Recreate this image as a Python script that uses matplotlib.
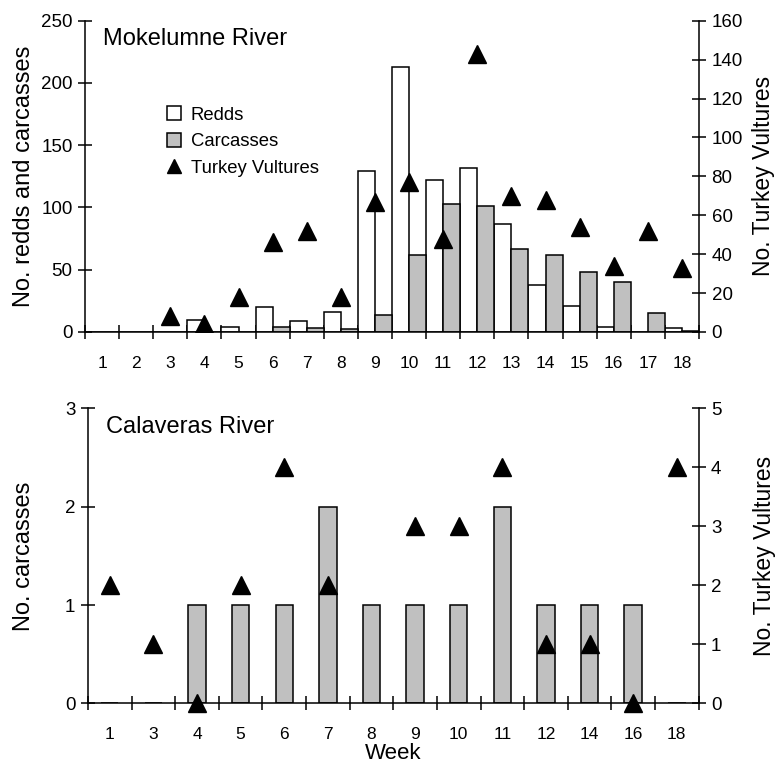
import numpy as np
import matplotlib
matplotlib.use("Agg")
import matplotlib.pyplot as plt
from matplotlib.patches import Patch
from matplotlib.lines import Line2D

plt.rcParams['font.family'] = ['Liberation Sans', 'DejaVu Sans']

# --- Mokelumne River (top panel) ---
moke_weeks = [str(w) for w in range(1, 19)]
moke_redds = [0, 0, 0, 10, 4, 20, 9, 16, 129, 213, 122, 132, 87, 38, 21, 4, 0, 3]
moke_carcasses = [0, 0, 0, 0, 0, 4, 3, 2, 14, 62, 103, 101, 67, 62, 48, 40, 15, 1]
moke_vultures = [np.nan, np.nan, 8, 4, 18, 46, 52, 18, 67, 77, 48, 143, 70, 68, 54, 34, 52, 33]

# --- Calaveras River (bottom panel) ---
cal_weeks = ['1', '3', '4', '5', '6', '7', '8', '9', '10', '11', '12', '14', '16', '18']
cal_carcasses = [0, 0, 1, 1, 1, 2, 1, 1, 1, 2, 1, 1, 1, 0]
cal_vultures = [2, 1, 0, 2, 4, 2, np.nan, 3, 3, 4, 1, 1, 0, 4]

GRAY = '#c0c0c0'
LW = 1.1
LABEL_FS = 17
RLABEL_FS = 16.5
TICK_FS = 13.5
XTICK_FS = 12.5


def style_axes(ax, twin, n):
    for a in (ax, twin):
        a.spines['top'].set_visible(False)
        for s in a.spines.values():
            s.set_linewidth(LW)
    ax.spines['right'].set_visible(False)
    twin.spines['left'].set_visible(False)
    twin.spines['bottom'].set_visible(False)
    ax.set_xlim(0, n)
    # tick marks at category boundaries, labels at centers
    ax.set_xticks(np.arange(0, n + 1))
    ax.set_xticklabels([])
    ax.tick_params(axis='x', which='major', direction='inout', length=10, width=LW)
    ax.tick_params(axis='y', direction='inout', length=10, width=LW, labelsize=TICK_FS, pad=4)
    twin.tick_params(axis='y', direction='inout', length=10, width=LW, labelsize=TICK_FS, pad=4)


fig = plt.figure(figsize=(7.75, 7.66), dpi=100)

# top panel
ax1 = fig.add_axes([0.1097, 0.5666, 0.7923, 0.4064])
ax1t = ax1.twinx()
n1 = len(moke_weeks)
x1 = np.arange(n1)
ax1.bar(x1 + 0.25, moke_redds, width=0.5, color='white', edgecolor='black', linewidth=LW, zorder=2)
ax1.bar(x1 + 0.75, moke_carcasses, width=0.5, color=GRAY, edgecolor='black', linewidth=LW, zorder=2)
ax1t.plot(x1 + 0.5, moke_vultures, linestyle='none', marker='^', markersize=12.5, color='black', zorder=3)
ax1.set_ylim(0, 250)
ax1.set_yticks(np.arange(0, 251, 50))
ax1t.set_ylim(0, 160)
ax1t.set_yticks(np.arange(0, 161, 20))
style_axes(ax1, ax1t, n1)
ax1.set_xticks(x1 + 0.5, minor=True)
ax1.set_xticklabels(moke_weeks, minor=True)
ax1.tick_params(axis='x', which='minor', length=0, labelsize=XTICK_FS, pad=17)
ax1.set_ylabel('No. redds and carcasses', fontsize=LABEL_FS)
ax1.yaxis.set_label_coords(-0.0814, 0.5)
ax1t.set_ylabel('No. Turkey Vultures', fontsize=RLABEL_FS)
ax1t.yaxis.set_label_coords(1.087, 0.5)
ax1.text(0.03, 0.975, 'Mokelumne River', transform=ax1.transAxes, fontsize=LABEL_FS, va='top', ha='left')

handles = [Patch(facecolor='white', edgecolor='black', linewidth=LW),
           Patch(facecolor=GRAY, edgecolor='black', linewidth=LW),
           Line2D([], [], linestyle='none', marker='^', markersize=10, color='black')]
ax1.legend(handles, ['Redds', 'Carcasses', 'Turkey Vultures'], loc='upper left',
           bbox_to_anchor=(0.133, 0.725), frameon=False, fontsize=13.3,
           handlelength=0.8, handleheight=0.8, handletextpad=0.5, labelspacing=0.5,
           borderpad=0, borderaxespad=0)

# bottom panel
ax2 = fig.add_axes([0.1135, 0.0818, 0.7879, 0.3851])
ax2t = ax2.twinx()
n2 = len(cal_weeks)
x2 = np.arange(n2)
ax2.bar(x2 + 0.5, cal_carcasses, width=0.4, color=GRAY, edgecolor='black', linewidth=LW, zorder=2)
ax2t.plot(x2 + 0.5, cal_vultures, linestyle='none', marker='^', markersize=12.5, color='black',
          zorder=3, clip_on=False)
ax2.set_ylim(0, 3)
ax2.set_yticks([0, 1, 2, 3])
ax2t.set_ylim(0, 5)
ax2t.set_yticks(np.arange(0, 6))
style_axes(ax2, ax2t, n2)
ax2.set_xticks(x2 + 0.5, minor=True)
ax2.set_xticklabels(cal_weeks, minor=True)
ax2.tick_params(axis='x', which='minor', length=0, labelsize=XTICK_FS, pad=17)
ax2.set_xlabel('Week', fontsize=16)
ax2.xaxis.set_label_coords(0.5, -0.136)
ax2.set_ylabel('No. carcasses', fontsize=LABEL_FS)
ax2.yaxis.set_label_coords(-0.0863, 0.5)
ax2t.set_ylabel('No. Turkey Vultures', fontsize=RLABEL_FS)
ax2t.yaxis.set_label_coords(1.0885, 0.5)
ax2.text(0.03, 0.975, 'Calaveras River', transform=ax2.transAxes, fontsize=LABEL_FS, va='top', ha='left')

ax1t.set_zorder(ax1.get_zorder() + 1)
ax2t.set_zorder(ax2.get_zorder() + 1)

fig.savefig('out.png', dpi=100)
